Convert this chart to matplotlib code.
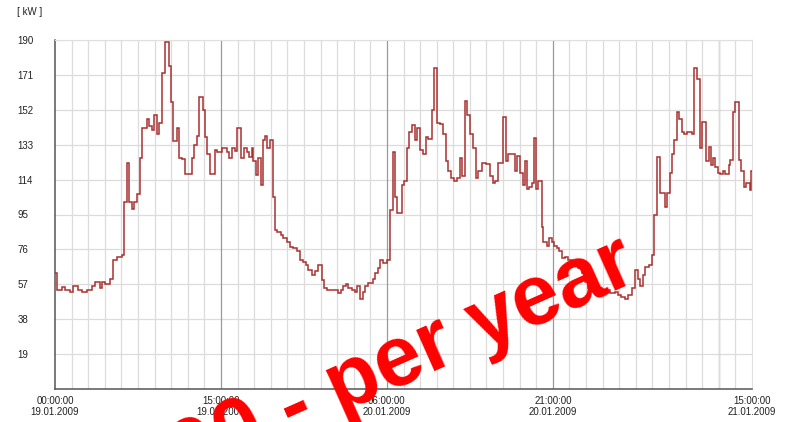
import matplotlib
matplotlib.use("Agg")
import matplotlib.pyplot as plt
import numpy as np
from datetime import datetime, timedelta

plt.rcParams['font.family'] = ['Liberation Sans', 'DejaVu Sans']

# load profile, hours since 19.01.2009 00:00 and kW (step values)
hours = [0, 0.21, 0.6, 0.9, 1.36, 1.66, 2.11, 2.41, 2.86, 3.32, 3.62, 4.07, 4.22, 4.52, 4.97,
         5.21, 5.58, 6.03, 6.24, 6.48, 6.69, 6.93, 7.17, 7.44, 7.69, 7.84, 8.29, 8.53, 8.74,
         8.98, 9.19, 9.43, 9.64, 9.95, 10.34, 10.46, 10.70, 11.0, 11.24, 11.45, 11.75, 12.36,
         12.57, 12.81, 13.05, 13.35, 13.56, 13.77, 14.01, 14.47, 14.68, 15.07,
         15.22, 15.52, 15.76, 15.97, 16.28, 16.49, 16.79, 17.09, 17.33, 17.57, 17.78, 17.93,
         18.18, 18.39, 18.6, 18.78, 19.0, 19.2, 19.44, 19.68, 19.89, 20.1, 20.4, 20.65, 20.95,
         21.25, 21.55, 21.85, 22.15, 22.39, 22.7, 22.91, 23.21, 23.51, 23.81, 24.11, 24.32,
         24.56, 24.87, 25.62, 25.83, 26.07, 26.31, 26.52, 26.82, 27.13, 27.34, 27.58, 27.82,
         28.03, 28.33, 28.72, 28.93, 29.15, 29.39,
         29.62, 30.04, 30.28, 30.53, 30.74, 30.89, 31.34, 31.55, 31.79, 32.03, 32.24, 32.54,
         32.76, 33.0, 33.24, 33.51, 33.75, 34.05, 34.26, 34.56, 34.8, 35.11, 35.35, 35.56,
         35.77, 36.07, 36.31, 36.61, 36.76, 37.07, 37.28, 37.52, 37.82, 38.06, 38.27, 38.57,
         38.96, 39.33, 39.57, 39.78, 40.08, 40.53, 40.77, 40.98, 41.59, 41.8, 42.04, 42.28,
         42.49, 42.7, 42.88, 43.09, 43.3, 43.48, 43.7, 44.0, 44.15, 44.45, 44.69, 44.9, 45.11,
         45.35, 45.6, 45.81,
         46.11, 46.4, 46.7, 47.0, 47.3, 47.6, 47.9, 48.2, 48.6, 49.0, 49.4, 49.8, 50.2, 50.6,
         50.9, 51.2, 51.5, 51.8, 52.14,
         52.45, 52.66, 52.9, 53.14, 53.35, 53.65, 53.95, 54.16, 54.4, 54.65, 55.1, 55.31,
         55.55, 55.76, 55.97, 56.21, 56.39, 56.66, 56.88, 57.12, 57.57, 57.78, 58.02, 58.26,
         58.47, 58.86, 59.08, 59.29, 59.47, 59.68, 59.89, 60.13, 60.37, 60.58, 60.88, 61.03,
         61.25, 61.49, 61.79, 62.0, 62.24, 62.48, 62.84, 62.93]
kw = [63, 54, 55.5, 54, 53, 56, 54, 53, 54, 56, 58, 55, 58, 57, 60,
      70, 72, 73, 102, 123, 102, 98, 102, 106, 126, 142, 147, 143, 141,
      149, 139, 145, 172, 189, 176, 156, 135, 142, 126, 125, 117, 126,
      133, 138, 159, 152, 137, 128, 117, 130, 129, 131,
      131, 129, 125.7, 131, 129.5, 142, 126, 131, 129, 126.5, 131, 124,
      116.5, 126, 111, 135.5, 138, 131, 135.5, 104.7, 86.5, 85.7, 84, 82, 80,
      77.5, 76.6, 75, 70, 69, 67.5, 65, 62, 64, 67.5, 59.3, 55,
      54, 54, 52, 54, 56, 57, 55, 54, 53, 56, 49, 53,
      56, 57.7, 60, 63, 66, 70,
      68.4, 70.5, 97.4, 129, 104.7, 95.6, 111, 113, 131, 140, 143.6, 135.5,
      142, 130, 128, 137, 136, 152, 174.6, 145, 144, 139, 124, 118.7,
      114.8, 113, 114.8, 126, 115.7, 157, 149, 139, 131, 115, 118.7, 123,
      122.5, 115.7, 112, 113, 123, 148, 124, 128, 118.7, 127, 117.5, 111,
      124, 109, 110, 112, 136.4, 109, 113, 88.4, 80, 78, 82, 80, 78,
      76.6, 75, 71.5,
      72, 70, 68, 67, 66, 63, 58, 55, 54, 55, 53, 54, 52, 53,
      51, 50, 49, 51, 55,
      65, 60, 56, 62, 66.6, 67.5, 73, 94.7, 126.5, 106.6, 99.2, 106.6,
      117.6, 128, 135.5, 151, 147, 140, 139, 140, 139, 175, 169, 131,
      145.5, 124, 132, 122, 126, 121, 117.6, 117, 118.7, 117, 122, 124.6,
      151, 156.4, 124.6, 118.7, 110, 112, 108.3, 118.7]
end_hour = 63
start = datetime(2009, 1, 19)
label_hours = [0, 15, 30, 45, 63]
y_ticks = list(range(19, 191, 19))

fig = plt.figure(figsize=(7.85, 4.22), dpi=100)
ax = fig.add_axes([55 / 785, 1 - 389 / 422, 697 / 785, 349 / 422])

# grid
ax.set_xticks(np.arange(0, end_hour, 1.5), minor=True)
ax.grid(which='minor', axis='x', color='#dcdcdc', lw=0.9)
for h in np.arange(15, end_hour, 15):
    ax.axvline(h, color='#9a9a9a', lw=0.9, zorder=1)
for v in y_ticks:
    ax.axhline(v, color='#dcdcdc', lw=0.9, zorder=0.5)

ax.stairs(kw, hours + [end_hour], baseline=None, color='#a83030', lw=1.1, zorder=3)

ax.set_xlim(0, end_hour)
ax.set_ylim(0, 190)
ax.set_xticks(label_hours)
ax.set_xticklabels([(start + timedelta(hours=h)).strftime('%H:%M:%S\n%d.%m.%Y') for h in label_hours],
                   fontsize=7, color='#222222', linespacing=1.15)
ax.set_yticks(y_ticks)
ax.set_yticklabels([str(v) for v in y_ticks], fontsize=7, color='#222222')
for lab in ax.get_yticklabels():
    lab.set_horizontalalignment('left')
ax.tick_params(axis='y', length=0, pad=27)
ax.tick_params(axis='x', which='both', length=0, pad=5)

for s in ['top', 'right']:
    ax.spines[s].set_color('#e0e0e0')
for s in ['left', 'bottom']:
    ax.spines[s].set_color('#555555')
    ax.spines[s].set_linewidth(1.1)

fig.text(17 / 785, 1 - 12 / 422, '[ kW ]', fontsize=7, color='#222222', va='center')

# red price overlay
fig.text(640 / 785, 1 - 280 / 422, '200,- per year', color='#ff0000', fontsize=61,
         fontweight='bold', rotation=24, rotation_mode='anchor', ha='right', va='baseline',
         zorder=10)

fig.savefig('out.png', dpi=100)
